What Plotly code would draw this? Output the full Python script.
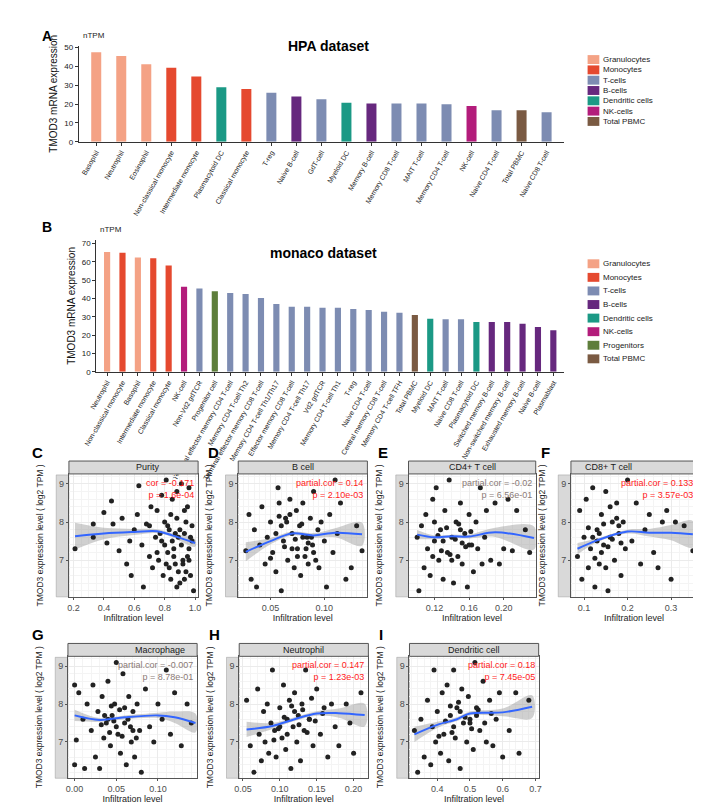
import plotly.graph_objects as go

W, H = 701, 805
FONT = "Liberation Sans"

# ---------------- data ----------------
hpa_cells = ["Basophil", "Neutrophil", "Eosinophil", "Non-classical monocyte", "Intermediate monocyte",
             "Plasmacytoid DC", "Classical monocyte", "T-reg", "Naive B-cell", "GdT-cell", "Myeloid DC",
             "Memory B-cell", "Memory CD8 T-cell", "MAIT T-cell", "Memory CD4 T-cell", "NK-cell",
             "Naive CD4 T-cell", "Total PBMC", "Naive CD8 T-cell"]
hpa_values = [47.5, 45.5, 41.2, 39.3, 34.7, 29.0, 28.0, 26.0, 24.0, 22.6, 20.7, 20.3, 20.3, 20.3, 20.0,
              19.0, 16.7, 16.7, 15.7]
hpa_groups = ["Granulocytes", "Granulocytes", "Granulocytes", "Monocytes", "Monocytes", "Dendritic cells",
              "Monocytes", "T-cells", "B-cells", "T-cells", "Dendritic cells", "B-cells", "T-cells", "T-cells",
              "T-cells", "NK-cells", "T-cells", "Total PBMC", "T-cells"]

monaco_cells = ["Neutrophil", "Non-classical monocyte", "Basophil", "Intermediate monocyte", "Classical monocyte",
                "NK-cell", "Non-Vd2 gdTCR", "Progenitor cell", "Terminal effector memory CD4 T-cell",
                "Memory CD4 T-cell Th2", "Terminal effector memory CD8 T-cell", "Memory CD4 T-cell Th1/Th17",
                "Effector memory CD8 T-cell", "Memory CD4 T-cell Th17", "Vd2 gdTCR", "Memory CD4 T-cell Th1",
                "T-reg", "Naive CD4 T-cell", "Central memory CD8 T-cell", "Memory CD4 T-cell TFH", "Total PBMC",
                "Myeloid DC", "MAIT T-cell", "Naive CD8 T-cell", "Plasmacytoid DC", "Switched memory B-cell",
                "Non-switched memory B-cell", "Exhausted memory B-cell", "Naive B-cell", "Plasmablast"]
monaco_values = [65.5, 65.0, 62.5, 62.0, 58.0, 46.5, 45.5, 44.0, 43.0, 42.5, 40.3, 37.0, 35.5, 35.5, 35.0, 35.0,
                 34.3, 33.8, 32.8, 32.3, 31.0, 29.0, 28.7, 28.7, 27.2, 27.2, 27.2, 26.3, 24.5, 22.7]
monaco_groups = ["Granulocytes", "Monocytes", "Granulocytes", "Monocytes", "Monocytes", "NK-cells", "T-cells",
                 "Progenitors", "T-cells", "T-cells", "T-cells", "T-cells", "T-cells", "T-cells", "T-cells",
                 "T-cells", "T-cells", "T-cells", "T-cells", "T-cells", "Total PBMC", "Dendritic cells",
                 "T-cells", "T-cells", "Dendritic cells", "B-cells", "B-cells", "B-cells", "B-cells", "B-cells"]

hpa_legend = ["Granulocytes", "Monocytes", "T-cells", "B-cells", "Dendritic cells", "NK-cells", "Total PBMC"]
monaco_legend = ["Granulocytes", "Monocytes", "T-cells", "B-cells", "Dendritic cells", "NK-cells",
                 "Progenitors", "Total PBMC"]
group_colors = {"Granulocytes": "#F4A285", "Monocytes": "#E5492F", "T-cells": "#7D8CB2", "B-cells": "#66287E",
                "Dendritic cells": "#1B9985", "NK-cells": "#B31C7B", "Progenitors": "#5E7E3B",
                "Total PBMC": "#7A5A42"}

c_x = [0.21, 0.33, 0.33, 0.40, 0.42, 0.45, 0.46, 0.50, 0.52, 0.55, 0.57, 0.58, 0.60, 0.62, 0.63, 0.65, 0.66, 0.68,
       0.70, 0.71, 0.72, 0.74, 0.75, 0.76, 0.78, 0.79, 0.80, 0.81, 0.82, 0.83, 0.84, 0.85, 0.86, 0.87, 0.88, 0.89,
       0.90, 0.91, 0.92, 0.93, 0.94, 0.95, 0.96, 0.97, 0.98, 0.99, 0.85, 0.88, 0.92, 0.95, 0.80, 0.78, 0.90, 0.93,
       0.97, 0.83, 0.87, 0.75, 0.70, 0.96, 0.82, 0.86, 0.89, 0.91, 0.94, 0.96, 0.98, 0.84, 0.88, 0.93, 0.77, 0.81]
c_y = [7.3, 7.95, 7.6, 8.25, 7.45, 8.55, 7.95, 7.25, 8.1, 6.9, 7.5, 6.6, 7.8, 8.2, 8.95, 7.4, 6.3, 7.95, 7.1, 8.4,
       6.8, 7.6, 8.3, 7.0, 7.5, 6.6, 8.0, 9.1, 7.2, 7.8, 6.5, 8.6, 7.3, 6.9, 8.1, 7.6, 6.4, 9.0, 7.0, 7.7, 6.7, 8.4,
       7.3, 6.6, 7.9, 6.2, 7.5, 8.8, 6.9, 7.1, 7.4, 8.7, 7.8, 8.3, 7.6, 6.8, 7.7, 7.2, 7.9, 8.9,
       7.9, 7.1, 6.7, 7.4, 8.0, 7.0, 7.5, 8.2, 6.3, 6.5, 7.7, 6.9]
c_fit_x = [0.21, 0.4, 0.6, 0.75, 0.85, 1.0]
c_fit_y = [7.63, 7.7, 7.74, 7.76, 7.65, 7.45]
c_fit_se = [0.35, 0.15, 0.08, 0.05, 0.05, 0.1]

d_x = [0.027, 0.03, 0.032, 0.035, 0.037, 0.04, 0.042, 0.045, 0.047, 0.05, 0.052, 0.055, 0.057, 0.058, 0.06, 0.062,
       0.064, 0.066, 0.068, 0.07, 0.072, 0.074, 0.075, 0.077, 0.078, 0.08, 0.082, 0.084, 0.085, 0.087, 0.089, 0.09,
       0.092, 0.094, 0.095, 0.097, 0.1, 0.102, 0.105, 0.108, 0.11, 0.112, 0.115, 0.12, 0.125, 0.13, 0.135, 0.06,
       0.07, 0.08, 0.065, 0.075, 0.085, 0.055, 0.09, 0.063, 0.068, 0.073, 0.079, 0.083, 0.088, 0.058, 0.05]
d_y = [7.25, 8.2, 6.5, 7.8, 6.3, 7.4, 8.4, 6.9, 7.6, 8.0, 7.2, 6.7, 8.9, 8.5, 6.2, 7.5, 8.1, 7.0, 8.6, 7.7, 6.8, 8.3,
       7.3, 7.9, 6.6, 8.5, 7.1, 7.6, 6.9, 8.1, 7.4, 8.8, 7.0, 7.8, 6.8, 8.0, 7.5, 6.3, 8.2, 7.2, 9.1, 7.7, 8.5, 6.5,
       6.8, 7.9, 7.25, 7.9, 7.3, 7.6, 8.0, 7.1, 7.45, 7.7, 7.2, 7.35, 8.2, 7.55, 7.95, 7.3, 7.6, 8.15, 7.05]
d_fit_x = [0.027, 0.05, 0.07, 0.09, 0.11, 0.135]
d_fit_y = [7.22, 7.5, 7.7, 7.65, 7.72, 7.68]
d_fit_se = [0.25, 0.08, 0.05, 0.06, 0.12, 0.3]

e_x = [0.1, 0.102, 0.105, 0.108, 0.11, 0.112, 0.115, 0.118, 0.12, 0.122, 0.125, 0.127, 0.13, 0.132, 0.135, 0.137,
       0.14, 0.142, 0.145, 0.147, 0.15, 0.152, 0.155, 0.158, 0.16, 0.163, 0.165, 0.168, 0.17, 0.173, 0.175, 0.178,
       0.18, 0.185, 0.19, 0.195, 0.2, 0.205, 0.21, 0.215, 0.225, 0.23, 0.13, 0.14, 0.15, 0.12, 0.16,
       0.124, 0.134, 0.138, 0.144, 0.148, 0.156, 0.162, 0.128, 0.118, 0.152]
e_y = [7.6, 6.2, 7.9, 6.8, 8.2, 7.3, 6.6, 8.6, 7.5, 8.9, 7.0, 7.8, 6.5, 8.3, 7.2, 9.1, 7.6, 6.4, 8.0, 7.1, 8.5, 6.9,
       7.7, 6.3, 8.2, 7.4, 6.7, 8.0, 7.3, 8.9, 6.9, 7.6, 8.3, 7.0, 8.5, 6.9, 7.3, 8.6, 7.25, 8.3, 7.8, 7.2, 7.5,
       7.0, 7.8, 8.0, 7.4, 7.65, 7.85, 7.15, 7.55, 7.95, 7.35, 7.75, 7.25, 7.1, 7.45]
e_fit_x = [0.1, 0.12, 0.14, 0.16, 0.19, 0.235]
e_fit_y = [7.67, 7.6, 7.63, 7.62, 7.73, 7.58]
e_fit_se = [0.12, 0.05, 0.04, 0.05, 0.12, 0.3]

f_x = [0.085, 0.09, 0.095, 0.1, 0.105, 0.11, 0.115, 0.12, 0.125, 0.13, 0.135, 0.14, 0.145, 0.15, 0.155, 0.16,
       0.165, 0.17, 0.175, 0.18, 0.185, 0.19, 0.195, 0.2, 0.21, 0.22, 0.23, 0.24, 0.25, 0.26, 0.27, 0.28, 0.29, 0.3,
       0.31, 0.33, 0.35, 0.12, 0.14, 0.16, 0.18, 0.15, 0.13, 0.135, 0.145, 0.155, 0.165, 0.175, 0.125, 0.185, 0.11]
f_y = [7.1, 8.3, 6.5, 7.6, 8.6, 6.8, 7.3, 8.9, 6.3, 7.8, 6.9, 8.2, 7.4, 8.8, 6.2, 7.6, 8.0, 7.0, 8.5, 7.7, 6.6, 8.0,
       7.3, 9.1, 7.5, 8.5, 6.9, 7.8, 8.2, 7.2, 6.8, 8.0, 8.3, 6.5, 8.0, 7.9, 7.25, 7.6, 7.2, 8.4, 7.9, 6.8, 7.5,
       7.7, 7.95, 7.35, 7.55, 8.1, 7.05, 7.45, 7.85]
f_fit_x = [0.085, 0.13, 0.2, 0.25, 0.3, 0.35]
f_fit_y = [7.3, 7.52, 7.75, 7.72, 7.72, 7.68]
f_fit_se = [0.15, 0.05, 0.05, 0.1, 0.2, 0.35]

g_x = [0.0, 0.0, 0.002, 0.005, 0.01, 0.012, 0.015, 0.02, 0.022, 0.025, 0.028, 0.03, 0.033, 0.035, 0.038, 0.04,
       0.043, 0.045, 0.048, 0.05, 0.052, 0.055, 0.058, 0.06, 0.062, 0.065, 0.068, 0.07, 0.072, 0.075, 0.078, 0.08,
       0.085, 0.09, 0.095, 0.1, 0.105, 0.11, 0.115, 0.12, 0.128, 0.135, 0.14, 0.05, 0.06, 0.04, 0.07,
       0.032, 0.042, 0.047, 0.054, 0.057, 0.064, 0.067, 0.036, 0.074, 0.044]
g_y = [8.5, 6.4, 7.05, 8.3, 7.6, 6.3, 8.0, 7.3, 8.5, 6.6, 7.8, 6.3, 8.2, 7.1, 7.5, 8.6, 6.9, 7.7, 8.0, 9.1, 7.2,
       6.7, 8.8, 7.5, 6.4, 8.2, 7.0, 7.8, 6.6, 8.0, 7.3, 6.2, 8.4, 7.4, 7.0, 8.0, 7.6, 8.9, 7.2, 8.3, 6.9, 8.0, 7.5,
       7.4, 7.9, 7.6, 7.3, 7.45, 7.25, 7.55, 7.85, 7.15, 7.6, 7.4, 7.7, 7.1, 7.95]
g_fit_x = [0.0, 0.03, 0.06, 0.1, 0.12, 0.145]
g_fit_y = [7.7, 7.58, 7.65, 7.7, 7.65, 7.5]
g_fit_se = [0.15, 0.05, 0.05, 0.07, 0.15, 0.25]

h_x = [0.055, 0.06, 0.065, 0.07, 0.072, 0.075, 0.078, 0.08, 0.083, 0.085, 0.088, 0.09, 0.093, 0.095, 0.1, 0.103,
       0.105, 0.108, 0.11, 0.113, 0.115, 0.118, 0.12, 0.123, 0.125, 0.128, 0.13, 0.133, 0.135, 0.14, 0.145, 0.15,
       0.155, 0.16, 0.165, 0.17, 0.175, 0.18, 0.19, 0.195, 0.2, 0.21, 0.1, 0.12, 0.14, 0.11,
       0.098, 0.106, 0.116, 0.126, 0.131, 0.137, 0.143, 0.148, 0.158, 0.092]
h_y = [8.1, 6.9, 6.2, 8.4, 7.2, 6.5, 7.8, 7.0, 8.0, 6.7, 7.5, 8.9, 7.3, 6.6, 7.9, 7.1, 8.5, 6.8, 7.6, 8.1, 6.3, 7.4,
       8.3, 7.0, 7.7, 6.5, 8.0, 7.3, 8.9, 7.6, 6.9, 8.4, 7.2, 7.9, 6.6, 8.0, 7.4, 6.9, 8.0, 7.5, 6.7, 8.3, 7.4, 7.8,
       7.6, 7.2, 7.35, 7.65, 7.95, 7.45, 7.85, 7.25, 8.15, 7.55, 7.75, 7.05]
h_fit_x = [0.055, 0.09, 0.12, 0.15, 0.18, 0.215]
h_fit_y = [7.33, 7.42, 7.6, 7.75, 7.76, 7.71]
h_fit_se = [0.2, 0.08, 0.05, 0.06, 0.12, 0.3]

i_x = [0.33, 0.34, 0.35, 0.36, 0.37, 0.38, 0.385, 0.39, 0.395, 0.4, 0.41, 0.415, 0.42, 0.43, 0.435, 0.44, 0.45,
       0.455, 0.46, 0.47, 0.475, 0.48, 0.49, 0.495, 0.5, 0.51, 0.515, 0.52, 0.53, 0.54, 0.55, 0.56, 0.57, 0.58, 0.59,
       0.6, 0.62, 0.64, 0.65, 0.68, 0.45, 0.5, 0.47, 0.52, 0.425, 0.445, 0.465, 0.485, 0.505, 0.525, 0.545, 0.405,
       0.565, 0.44]
i_y = [7.3, 6.2, 7.6, 6.6, 8.1, 6.4, 7.4, 8.9, 7.0, 7.8, 6.7, 8.3, 7.2, 8.5, 6.5, 7.7, 8.9, 7.1, 7.9, 6.3, 8.4, 7.5,
       7.0, 8.2, 7.6, 6.8, 9.1, 7.9, 7.3, 8.6, 7.0, 8.1, 6.9, 7.6, 8.3, 6.6, 7.3, 8.3, 6.7, 8.1, 7.4, 7.5, 7.8, 7.7,
       7.55, 7.25, 8.05, 7.65, 7.35, 7.85, 7.5, 7.15, 7.75, 7.95]
i_fit_x = [0.33, 0.4, 0.46, 0.5, 0.6, 0.69]
i_fit_y = [7.2, 7.45, 7.6, 7.75, 7.78, 7.93]
i_fit_se = [0.2, 0.08, 0.05, 0.05, 0.1, 0.3]

# ---------------- layout helpers ----------------
def px(x):
    return x / W

def py(y):
    return 1 - y / H

fig = go.Figure()
annotations = []
shapes = []
layout = {}

def add_bar_panel(idx, cells, values, groups, legend_order, xdom, ydom, ymax, ytop_tick, leg_top, leg_step):
    xa, ya = f"x{idx}" if idx > 1 else "x", f"y{idx}" if idx > 1 else "y"
    for g in legend_order:
        cx = [c for c, gg in zip(cells, groups) if gg == g]
        cv = [v for v, gg in zip(values, groups) if gg == g]
        fig.add_trace(go.Bar(x=cx, y=cv, name=g, marker_color=group_colors[g], marker_line_width=0,
                             xaxis=xa, yaxis=ya, showlegend=False, width=0.4))
    key = "" if idx == 1 else str(idx)
    layout["xaxis" + key] = dict(domain=[px(xdom[0]), px(xdom[1])], anchor=ya, type="category",
                                 categoryorder="array", categoryarray=cells, tickangle=-60,
                                 range=[-0.7, len(cells) - 0.3],
                                 tickfont=dict(size=7, color="#222"), showline=True, linecolor="#333",
                                 ticks="outside", ticklen=3, tickcolor="#333")
    layout["yaxis" + key] = dict(domain=[py(ydom[1]), py(ydom[0])], anchor=xa, range=[0, ymax],
                                 tickvals=list(range(0, ytop_tick + 1, 10)), tickfont=dict(size=8, color="#222"),
                                 showline=True, linecolor="#333", ticks="outside", ticklen=3, tickcolor="#333",
                                 showgrid=False, zeroline=False,
                                 title=dict(text="TMOD3 mRNA expression", font=dict(size=10, color="#111"),
                                            standoff=4))
    annotations.append(dict(text="nTPM", x=px(xdom[0] + 2), y=py(ydom[0] - 4), xref="paper", yref="paper",
                            showarrow=False, font=dict(size=8, color="#222"), xanchor="left", yanchor="bottom"))
    for j, g in enumerate(legend_order):
        yc = leg_top + j * leg_step
        shapes.append(dict(type="rect", xref="paper", yref="paper", x0=px(580), x1=px(592), y0=py(yc + 4.5),
                           y1=py(yc - 4.5), fillcolor=group_colors[g], line=dict(width=0)))
        annotations.append(dict(text=g, x=px(594), y=py(yc), xref="paper", yref="paper", showarrow=False,
                                xanchor="left", yanchor="middle", font=dict(size=8, color="#222")))

add_bar_panel(1, hpa_cells, hpa_values, hpa_groups, hpa_legend, (60, 556), (36, 133), 51, 50, 50, 10.4)
add_bar_panel(2, monaco_cells, monaco_values, monaco_groups, monaco_legend, (78, 556), (232, 365), 72, 70, 256, 13.7)

scatter_panels = [
    ("C", "Purity", "cor = -0.171", "p = 1.6e-04", True, c_x, c_y, c_fit_x, c_fit_y, c_fit_se,
     (50, 182), (468, 592), [0.17, 1.02], [0.2, 0.4, 0.6, 0.8, 1.0], ".1f"),
    ("D", "B cell", "partial.cor = 0.14", "p = 2.10e-03", True, d_x, d_y, d_fit_x, d_fit_y, d_fit_se,
     (223, 355), (468, 592), [0.02, 0.14], [0.05, 0.10], ".2f"),
    ("E", "CD4+ T cell", "partial.cor = -0.02", "p = 6.56e-01", False, e_x, e_y, e_fit_x, e_fit_y, e_fit_se,
     (397, 527), (468, 592), [0.09, 0.237], [0.12, 0.16, 0.20], ".2f"),
    ("F", "CD8+ T cell", "partial.cor = 0.133", "p = 3.57e-03", True, f_x, f_y, f_fit_x, f_fit_y, f_fit_se,
     (563, 692), (468, 592), [0.07, 0.36], [0.1, 0.2, 0.3], ".1f"),
    ("G", "Macrophage", "partial.cor = -0.007", "p = 8.78e-01", False, g_x, g_y, g_fit_x, g_fit_y, g_fit_se,
     (49, 181), (652, 775), [-0.008, 0.147], [0.0, 0.05, 0.10], ".2f"),
    ("H", "Neutrophil", "partial.cor = 0.147", "p = 1.23e-03", True, h_x, h_y, h_fit_x, h_fit_y, h_fit_se,
     (224, 356), (652, 775), [0.045, 0.22], [0.05, 0.10, 0.15, 0.20], ".2f"),
    ("I", "Dendritic cell", "partial.cor = 0.18", "p = 7.45e-05", True, i_x, i_y, i_fit_x, i_fit_y, i_fit_se,
     (398, 530), (652, 775), [0.315, 0.71], [0.4, 0.5, 0.6, 0.7], ".1f"),
]

for k, (letter, title, s1, s2, sig, sx, sy, fx, fy, fse, xd, yd, xr, xt, fmt) in enumerate(scatter_panels):
    n = k + 3
    xa, ya = f"x{n}", f"y{n}"
    lo = [a - b for a, b in zip(fy, fse)]
    hi = [a + b for a, b in zip(fy, fse)]
    fig.add_trace(go.Scatter(x=fx + fx[::-1], y=hi + lo[::-1], fill="toself", mode="lines", line=dict(width=0,
                             shape="spline"), fillcolor="rgba(150,150,150,0.45)", showlegend=False,
                             xaxis=xa, yaxis=ya, hoverinfo="skip"))
    fig.add_trace(go.Scatter(x=sx, y=sy, mode="markers", marker=dict(size=5, color="#222"), showlegend=False,
                             xaxis=xa, yaxis=ya))
    fig.add_trace(go.Scatter(x=fx, y=fy, mode="lines", line=dict(color="#3366FF", width=2, shape="spline"),
                             showlegend=False, xaxis=xa, yaxis=ya))
    layout[f"xaxis{n}"] = dict(domain=[px(xd[0]), px(xd[1])], anchor=ya, range=xr, tickvals=xt, tickformat=fmt,
                               tickfont=dict(size=9, color="#4D4D4D"), showline=True, mirror=True,
                               linecolor="#555", ticks="outside", ticklen=2, tickcolor="#555",
                               gridcolor="#EBEBEB", zeroline=False,
                               minor=dict(showgrid=True, gridcolor="#F4F4F4"),
                               title=dict(text="Infiltration level", font=dict(size=9, color="#222"), standoff=0))
    layout[f"yaxis{n}"] = dict(domain=[py(yd[1]), py(yd[0])], anchor=xa, range=[6.04, 9.26], tickvals=[7, 8, 9],
                               tickfont=dict(size=9, color="#4D4D4D"), showline=True, mirror=True,
                               linecolor="#555", ticks="outside", ticklen=2, tickcolor="#555",
                               gridcolor="#EBEBEB", zeroline=False,
                               minor=dict(showgrid=True, gridcolor="#F4F4F4"),
                               title=dict(text="TMOD3 expression level ( log2 TPM )",
                                          font=dict(size=8.5, color="#222"), standoff=14))
    shapes.append(dict(type="rect", xref="paper", yref="paper", x0=px(xd[0]), x1=px(xd[1]), y0=py(yd[0]),
                       y1=py(yd[0] - 13), fillcolor="#D9D9D9", line=dict(color="#555", width=1)))
    shapes.append(dict(type="rect", xref="paper", yref="paper", x0=px(xd[0] - 13), x1=px(xd[0]), y0=py(yd[1]),
                       y1=py(yd[0] + 1), fillcolor="#D9D9D9", line=dict(color="#999", width=0.5), layer="below"))
    annotations.append(dict(text=title, x=px((xd[0] + xd[1]) / 2), y=py(yd[0] - 6.5), xref="paper", yref="paper",
                            showarrow=False, font=dict(size=9, color="#1A1A1A"), yanchor="middle"))
    col = "#FF1A1A" if sig else "#8A7A76"
    annotations.append(dict(text=s1 + "<br>" + s2, x=px(xd[1] - 2), y=py(yd[0] + 2), xref="paper", yref="paper",
                            showarrow=False, align="right", xanchor="right", yanchor="top",
                            font=dict(size=9, color=col)))
    lx = 10 if letter in ("C", "G") else xd[0] - 33
    annotations.append(dict(text=f"<b>{letter}</b>", x=px(lx), y=py(yd[0] - 22), xref="paper", yref="paper",
                            showarrow=False, xanchor="left", yanchor="middle", font=dict(size=15, color="#000")))

annotations += [
    dict(text="<b>A</b>", x=px(20), y=py(16), xref="paper", yref="paper", showarrow=False, xanchor="left",
         font=dict(size=14, color="#000")),
    dict(text="<b>B</b>", x=px(20), y=py(209), xref="paper", yref="paper", showarrow=False, xanchor="left",
         font=dict(size=14, color="#000")),
    dict(text="<b>HPA dataset</b>", x=px(315), y=py(26), xref="paper", yref="paper", showarrow=False,
         font=dict(size=14, color="#000")),
    dict(text="<b>monaco dataset</b>", x=px(310), y=py(235), xref="paper", yref="paper", showarrow=False,
         font=dict(size=14, color="#000")),
]

fig.update_layout(width=W, height=H, margin=dict(l=0, r=0, t=0, b=0), paper_bgcolor="white",
                  plot_bgcolor="white", font=dict(family=FONT, color="#222"), bargap=0.6, showlegend=False,
                  annotations=annotations, shapes=shapes, **layout)
fig.write_html("out.html")
